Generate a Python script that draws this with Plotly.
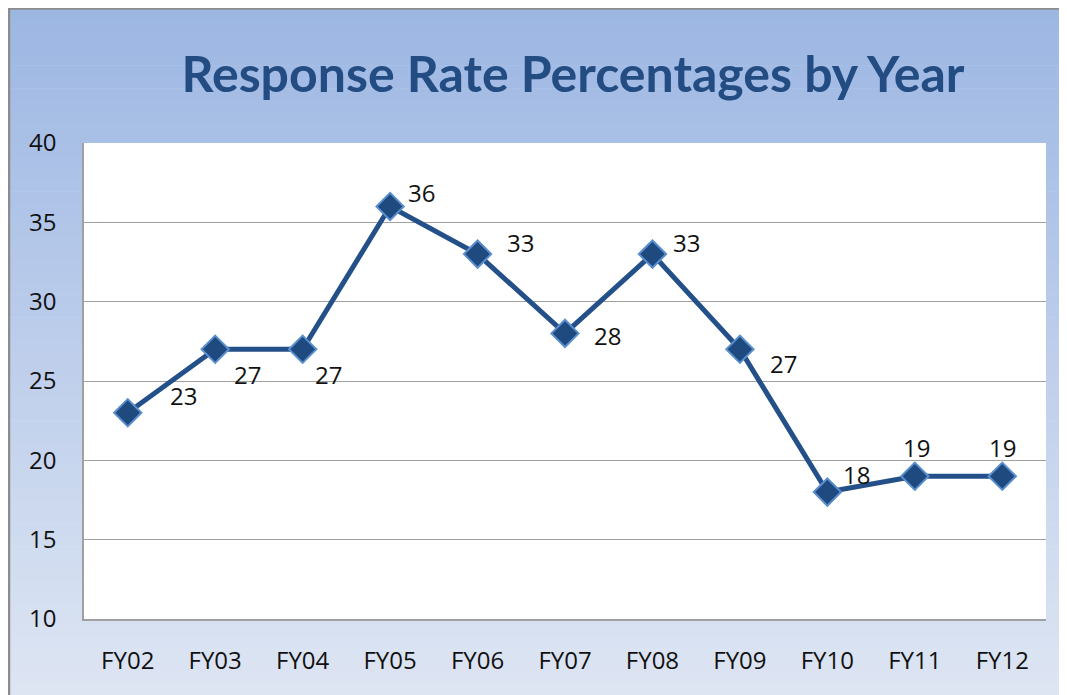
import plotly.graph_objects as go

categories = ["FY02", "FY03", "FY04", "FY05", "FY06", "FY07", "FY08", "FY09", "FY10", "FY11", "FY12"]
response_rates = [23, 27, 27, 36, 33, 28, 33, 27, 18, 19, 19]
y_ticks = [10, 15, 20, 25, 30, 35, 40]

# label offsets (pixels) relative to each point, styling only
label_dx = [56, 32, 26, 31, 43, 42, 34, 44, 29, 2, 0]
label_dy = [17, -25, -25, 14, 12, -2, 12, -14, 18, 29, 29]

OFF = 8  # page body margin
W, H = 1080, 700
ML, MT = 84 - OFF, 143 - OFF
MR = W - (1046 - OFF)
MB = H - (619 - OFF)
PW, PH = W - ML - MR, H - MT - MB


def px_x(px):
    return (px - OFF - ML) / PW


def px_y(py):
    return (H - MB - (py - OFF)) / PH


fig = go.Figure()
fig.add_trace(go.Scatter(
    x=categories, y=response_rates, mode="lines+markers",
    line=dict(color="#24508A", width=5),
    marker=dict(symbol="diamond", size=21, color="#1F4A80",
                line=dict(color="#5A8ECC", width=2)),
    hoverinfo="x+y", showlegend=False, cliponaxis=False,
))

for c, v, dx, dy in zip(categories, response_rates, label_dx, label_dy):
    fig.add_annotation(x=c, y=v, text=str(v), showarrow=False,
                       xshift=dx, yshift=dy,
                       font=dict(family="Open Sans", size=24, color="#111111"))

shapes = []
# outer frame gradient (visible region: 8..1067 x 8..695)
top = (157, 183, 227)
bot = (221, 229, 243)
n = 60
x0, x1 = px_x(OFF), px_x(OFF + W + 2)
y_top, y_bot = OFF, 695
for i in range(n):
    t = i / (n - 1)
    col = tuple(round(top[k] + (bot[k] - top[k]) * t) for k in range(3))
    ya = y_top + (y_bot - y_top) * i / n
    yb = y_top + (y_bot - y_top) * (i + 1) / n
    if i == n - 1:
        yb = OFF + H + 2
    shapes.append(dict(type="rect", xref="paper", yref="paper", layer="below",
                       x0=x0, x1=x1, y0=px_y(yb + 0.6), y1=px_y(ya),
                       fillcolor="rgb(%d,%d,%d)" % col, line=dict(width=0)))
# frame border (left and top edges visible)
shapes.append(dict(type="rect", xref="paper", yref="paper", layer="below",
                   x0=px_x(OFF + 1), x1=px_x(OFF + W + 10), y0=px_y(OFF + H + 10), y1=px_y(OFF + 0.5),
                   fillcolor="rgba(0,0,0,0)", line=dict(color="#8C8C8C", width=2.5)))
# plot area
shapes.append(dict(type="rect", xref="paper", yref="paper", layer="below",
                   x0=0, x1=1, y0=0, y1=1, fillcolor="white", line=dict(width=0)))

fig.update_layout(
    width=W, height=H,
    margin=dict(l=ML, r=MR, t=MT, b=MB),
    paper_bgcolor="white", plot_bgcolor="rgba(0,0,0,0)",
    shapes=shapes,
    title=dict(text="<b>Response Rate Percentages by Year</b>",
               x=(573 - OFF) / W, xanchor="center",
               y=1 - (74 - OFF) / H, yanchor="middle",
               font=dict(family="Lato", size=50, color="#234C82")),
    xaxis=dict(type="category", range=[-0.5, 10.5], showgrid=False,
               showline=True, linecolor="#A0A0A0", linewidth=1.5,
               ticks="", ticklabelstandoff=19, zeroline=False,
               tickfont=dict(family="Open Sans", size=24, color="#111111")),
    yaxis=dict(range=[10, 40], tickvals=y_ticks, showgrid=True,
               gridcolor="#A0A0A0", gridwidth=1.2,
               showline=True, linecolor="#A0A0A0", linewidth=1.5,
               ticks="", ticklabelstandoff=21, zeroline=False,
               tickfont=dict(family="Open Sans", size=24, color="#111111")),
)

fig.write_html(
    "out.html",
    post_script="document.documentElement.style.overflow='hidden';"
                "document.body.style.overflow='hidden';",
)
